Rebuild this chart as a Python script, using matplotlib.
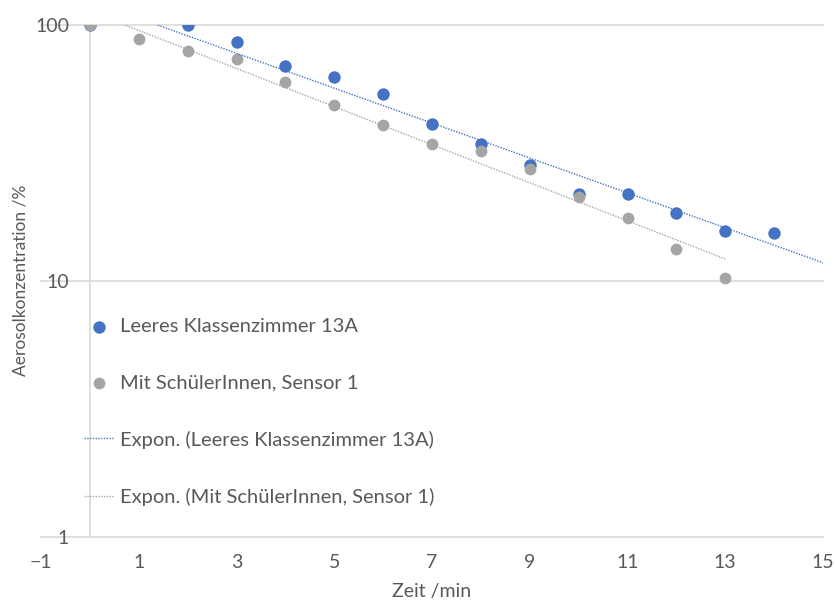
import numpy as np
import matplotlib
matplotlib.use("Agg")
import matplotlib.pyplot as plt
from matplotlib.ticker import FixedLocator, FixedFormatter, NullLocator

# data
x_leer = [0, 2, 3, 4, 5, 6, 7, 8, 9, 10, 11, 12, 13, 14]
y_leer = [100, 100, 85.6, 68.9, 62.8, 53.6, 41.0, 34.3, 28.4, 21.9, 21.9, 18.4, 15.7, 15.4]
x_mit = [0, 1, 2, 3, 4, 5, 6, 7, 8, 9, 10, 11, 12, 13]
y_mit = [100, 88.4, 78.9, 73.5, 60.0, 48.8, 40.8, 34.3, 32.1, 27.3, 21.3, 17.6, 13.3, 10.3]

label_leer = "Leeres Klassenzimmer 13A"
label_mit = "Mit SchülerInnen, Sensor 1"
x_ticks = [-1, 1, 3, 5, 7, 9, 11, 13, 15]
y_ticks = [1, 10, 100]

blue = "#4472C4"
gray = "#A5A5A5"
txt = "#595959"
grid = "#D9D9D9"

plt.rcParams['font.family'] = ['Lato', 'DejaVu Sans']
fs = 14

fig = plt.figure(figsize=(8.35, 6.02), dpi=100)
ax = fig.add_axes([41 / 835, 1 - 537 / 602, (823 - 41) / 835, (537 - 25) / 602])

ax.scatter(x_leer, y_leer, s=80, color=blue, zorder=3, label=label_leer, linewidths=0)
ax.scatter(x_mit, y_mit, s=72, color=gray, zorder=4, label=label_mit, linewidths=0)


# exponential trendlines, like Excel
def expfit(x, y):
    b, a = np.polyfit(x, np.log(y), 1)
    return a, b

a1, b1 = expfit(x_leer, y_leer)
xx1 = np.linspace(0, 15, 200)
ax.plot(xx1, np.exp(a1 + b1 * xx1), color=blue, lw=1, ls=(0, (1, 1)), zorder=5,
        label="Expon. (" + label_leer + ")")
a2, b2 = expfit(x_mit, y_mit)
xx2 = np.linspace(0, 13, 200)
ax.plot(xx2, np.exp(a2 + b2 * xx2), color=gray, lw=1, ls=(0, (1, 1)), zorder=5,
        label="Expon. (" + label_mit + ")")

ax.set_yscale('log')
ax.set_xlim(-1, 15)
ax.set_ylim(1, 100)

for s in ['top', 'right', 'bottom']:
    ax.spines[s].set_visible(False)
ax.spines['left'].set_position(('data', 0))
ax.spines['left'].set_color(grid)
ax.spines['left'].set_linewidth(1.2)

ax.yaxis.set_major_locator(FixedLocator(y_ticks))
ax.yaxis.set_major_formatter(FixedFormatter([str(v) for v in y_ticks]))
ax.yaxis.set_minor_locator(NullLocator())
ax.set_xticks(x_ticks)
ax.tick_params(axis='y', length=0, pad=15, labelsize=fs, labelcolor=txt)
ax.tick_params(axis='x', length=0, pad=12, labelsize=fs, labelcolor=txt)
for v in y_ticks:
    ax.axhline(v, color=grid, lw=1.2, zorder=0, clip_on=False)

fig.text(432 / 835, 1 - 592 / 602, "Zeit /min", fontsize=fs, color=txt, ha='center', va='center')
fig.text(21 / 835, 1 - 280 / 602, "Aerosolkonzentration /%", fontsize=12.5, color=txt,
         ha='center', va='center', rotation=90)

ax.legend(loc='upper left', bbox_to_anchor=(0.045, 0.444), frameon=False, fontsize=14.5,
          labelcolor=txt, labelspacing=1.95, handlelength=1.5, handletextpad=0.3,
          borderaxespad=0, scatterpoints=1)

fig.savefig("out.png", dpi=100)
